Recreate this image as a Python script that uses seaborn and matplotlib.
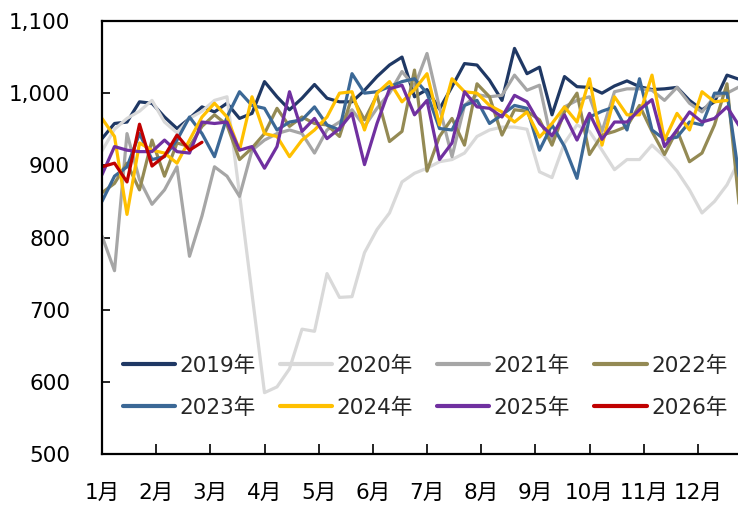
import numpy as np
import pandas as pd
import seaborn as sns
import matplotlib
matplotlib.use("Agg")
import matplotlib.pyplot as plt
from matplotlib.lines import Line2D
from matplotlib.ticker import FuncFormatter

# Weekly values by year (week 1 .. week 52)
y2019 = [937, 958, 960, 988, 986, 967, 951, 965, 981, 974, 986, 965, 972, 1016, 995, 977, 993, 1012,
         993, 988, 988, 1004, 1023, 1039, 1050, 995, 1005, 978, 1009, 1041, 1039, 1018, 990, 1062,
         1027, 1036, 970, 1023, 1009, 1008, 1000, 1010, 1017, 1009, 1005, 1006, 1008, 990, 977, 988,
         1025, 1019]
y2020 = [920, 950, 965, 975, 990, 960, 945, 965, 975, 990, 995, 860, 722, 585, 593, 618, 673, 670,
         750, 717, 718, 779, 811, 834, 877, 889, 896, 905, 908, 917, 940, 949, 953, 953, 950, 891,
         883, 931, 956, 947, 921, 894, 908, 908, 928, 912, 892, 866, 834, 850, 873, 908]
y2021 = [802, 754, 944, 880, 846, 866, 898, 774, 830, 898, 885, 857, 921, 935, 944, 949, 944, 917,
         949, 960, 977, 954, 979, 1000, 1030, 1009, 1055, 980, 912, 983, 998, 995, 997, 1025, 1004,
         1011, 931, 981, 990, 995, 947, 1002, 1006, 1006, 1004, 990, 1008, 986, 974, 995, 1000, 1009]
y2022 = [862, 875, 903, 866, 935, 885, 931, 926, 954, 970, 956, 908, 924, 944, 979, 954, 967, 958,
         956, 940, 995, 963, 997, 933, 947, 1032, 892, 940, 965, 928, 1013, 995, 942, 977, 975, 963,
         928, 974, 1000, 915, 942, 947, 954, 983, 947, 915, 949, 905, 917, 956, 1013, 840]
y2023 = [850, 885, 898, 944, 908, 912, 935, 967, 944, 912, 967, 1002, 983, 979, 949, 960, 963, 981,
         956, 949, 1027, 1000, 1002, 1009, 1016, 1020, 1000, 951, 949, 983, 990, 958, 970, 983, 979,
         921, 956, 926, 882, 967, 975, 981, 949, 1020, 949, 936, 939, 960, 956, 1000, 1000, 880]
y2024 = [965, 940, 832, 931, 921, 917, 903, 935, 967, 986, 967, 921, 995, 944, 940, 912, 935, 949,
         967, 1000, 1002, 949, 1000, 1016, 988, 1005, 1027, 956, 1020, 1002, 1000, 983, 974, 960,
         974, 939, 958, 981, 960, 1020, 928, 995, 970, 970, 1025, 935, 972, 949, 1002, 988, 990]
y2025 = [887, 926, 921, 919, 919, 935, 919, 917, 960, 958, 960, 921, 926, 896, 926, 1002, 947, 965,
         937, 951, 972, 901, 958, 1006, 1011, 970, 990, 908, 931, 1002, 981, 979, 967, 997, 988, 958,
         941, 970, 935, 972, 936, 960, 960, 977, 991, 926, 949, 974, 960, 965, 981, 954]
y2026 = [898, 903, 877, 957, 899, 913, 942, 921, 932]

years = ["2019年", "2020年", "2021年", "2022年", "2023年", "2024年", "2025年", "2026年"]
series = [y2019, y2020, y2021, y2022, y2023, y2024, y2025, y2026]
colors = ["#1F3864", "#D9D9D9", "#A6A6A6", "#948A54", "#3B6896", "#FFC000", "#7030A0", "#C00000"]
months = ["1月", "2月", "3月", "4月", "5月", "6月", "7月", "8月", "9月", "10月", "11月", "12月"]
y_ticks = [500, 600, 700, 800, 900, 1000, 1100]

frames = []
for name, vals in zip(years, series):
    frames.append(pd.DataFrame({"week": np.arange(len(vals)), "value": vals, "year": name}))
df = pd.concat(frames, ignore_index=True)
palette = dict(zip(years, colors))

sns.set_style("white")
plt.rcParams["font.family"] = ["DejaVu Sans", "Noto Sans CJK SC"]

fig = plt.figure(figsize=(7.38, 5.05), dpi=100)
ax = fig.add_axes([102 / 738, 51 / 505, 636 / 738, 433 / 505])

sns.lineplot(data=df, x="week", y="value", hue="year", hue_order=years, palette=palette,
             estimator=None, sort=False, linewidth=2.3, legend=False, ax=ax)

ax.set_xlim(0, 636 / 12.5)
ax.set_ylim(500, 1100)
ax.set_xlabel("")
ax.set_ylabel("")

ax.set_yticks(y_ticks)
ax.yaxis.set_major_formatter(FuncFormatter(lambda v, p: f"{int(v):,}"))
ax.set_xticks([i * 52 / 12 for i in range(12)])
ax.set_xticklabels(months)

ax.tick_params(axis="y", direction="in", length=6, width=1.2, pad=23, labelsize=15.5,
               colors="black", left=True)
ax.tick_params(axis="x", direction="in", length=7, width=1.2, pad=21, labelsize=15.5,
               colors="black", bottom=True)

for side in ["left", "bottom", "top"]:
    ax.spines[side].set_color("black")
    ax.spines[side].set_linewidth(1.6)
ax.spines["right"].set_visible(False)

# legend filled row by row: 4 columns x 2 rows
handles = [Line2D([], [], color=c, linewidth=3) for c in colors]
order = [0, 4, 1, 5, 2, 6, 3, 7]
ax.legend([handles[i] for i in order], [years[i] for i in order], ncol=4, loc="upper left",
          bbox_to_anchor=(0.0325, 0.227), frameon=False, fontsize=15.5, handlelength=2.45,
          handletextpad=0.2, columnspacing=1.1, labelspacing=1.0, borderpad=0, borderaxespad=0)

fig.savefig("out.png", dpi=100)
